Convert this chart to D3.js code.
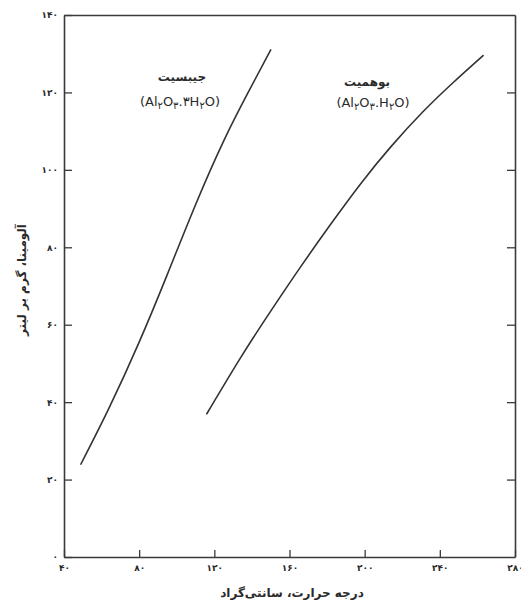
<!DOCTYPE html>
<html lang="fa">
<head>
<meta charset="utf-8">
<script src="https://cdn.jsdelivr.net/npm/d3@7"></script>
<style>
  html, body { margin: 0; padding: 0; background: #ffffff; }
  svg { display: block; }
  text { font-family: "DejaVu Sans", "Noto Sans", sans-serif; fill: #2a2a2a; }
</style>
</head>
<body>
<svg id="chart" width="521" height="603"></svg>
<script>
// Solubility of alumina (g/L) against temperature (°C)
const gibbsiteTemp    = [49, 64, 80, 95, 110, 125, 138, 150];
const gibbsiteAlumina = [24, 38.5, 55.5, 73, 91, 107.5, 120, 131];
const boehmiteTemp    = [116, 134, 150, 166, 182, 198, 214, 231, 247, 263];
const boehmiteAlumina = [37, 51.5, 63.5, 75, 86, 96.5, 106, 115, 122.5, 129.5];

const xTicks = [40, 80, 120, 160, 200, 240, 280];
const yTicks = [0, 20, 40, 60, 80, 100, 120, 140];

const xTitle = "درجه حرارت، سانتی‌گراد";
const yTitle = "آلومینا، گرم بر لیتر";

const fa = n => String(n).replace(/\d/g, c => "۰۱۲۳۴۵۶۷۸۹"[+c]);

const W = 521, H = 603;
const margin = { top: 15, right: 6, bottom: 46, left: 64 };

const svg = d3.select("#chart");
const x = d3.scaleLinear().domain([40, 280]).range([margin.left, W - margin.right]);
const y = d3.scaleLinear().domain([0, 140]).range([H - margin.bottom, margin.top]);

const axisColor = "#3a3a3a";

function styleAxis(g) {
  g.selectAll(".domain").attr("stroke", axisColor).attr("stroke-width", 1.6);
  g.selectAll(".tick line").attr("stroke", axisColor).attr("stroke-width", 1.3);
  g.selectAll(".tick text")
    .attr("font-family", "DejaVu Sans")
    .attr("font-size", 9)
    .attr("font-weight", "bold")
    .attr("fill", "#2a2a2a");
}

// bottom axis, ticks pointing inward
svg.append("g")
  .attr("transform", `translate(0,${y(0)})`)
  .call(d3.axisBottom(x).tickValues(xTicks).tickSize(-7).tickPadding(8).tickFormat(fa).tickSizeOuter(0))
  .call(styleAxis);

// left axis, ticks pointing inward
svg.append("g")
  .attr("transform", `translate(${x(40)},0)`)
  .call(d3.axisLeft(y).tickValues(yTicks).tickSize(-8).tickPadding(6).tickFormat(fa).tickSizeOuter(0))
  .call(styleAxis);

// right frame with mirrored inward ticks
svg.append("g")
  .attr("transform", `translate(${x(280)},0)`)
  .call(d3.axisRight(y).tickValues(yTicks.filter(v => v > 0 && v < 140)).tickSize(-8).tickFormat("").tickSizeOuter(0))
  .call(styleAxis);

// top frame
svg.append("g")
  .attr("transform", `translate(0,${y(140)})`)
  .call(d3.axisTop(x).tickValues([]).tickSizeOuter(0))
  .call(styleAxis);

// curves
const line = d3.line()
  .x(d => x(d[0]))
  .y(d => y(d[1]))
  .curve(d3.curveNatural);

const series = [
  d3.zip(gibbsiteTemp, gibbsiteAlumina),
  d3.zip(boehmiteTemp, boehmiteAlumina)
];

svg.append("g").selectAll("path")
  .data(series)
  .join("path")
  .attr("d", line)
  .attr("fill", "none")
  .attr("stroke", "#333")
  .attr("stroke-width", 1.6)
  .attr("stroke-linecap", "round");

// curve labels
function formula(gx, gy, parts) {
  const t = svg.append("text")
    .attr("x", gx).attr("y", gy)
    .attr("text-anchor", "middle")
    .attr("direction", "ltr")
    .attr("font-family", "Liberation Sans, Arial, sans-serif")
    .attr("font-size", 13);
  parts.forEach(p => {
    t.append("tspan")
      .attr("dy", p.sub ? 3 : (p.after ? -3 : 0))
      .attr("font-family", p.sub ? "DejaVu Sans" : null)
      .attr("font-size", p.sub ? 10 : null)
      .text(p.s);
  });
}

svg.append("text")
  .attr("x", 182).attr("y", 81)
  .attr("text-anchor", "middle")
  .attr("font-size", 12)
  .attr("font-weight", "bold")
  .text("جیبسیت");
formula(180, 106, [
  { s: "(Al" }, { s: "۲", sub: true }, { s: "O", after: true }, { s: "۳", sub: true },
  { s: ".", after: true }, { s: "۳", sub: false }, { s: "H" }, { s: "۲", sub: true }, { s: "O)", after: true }
]);

svg.append("text")
  .attr("x", 367).attr("y", 86)
  .attr("text-anchor", "middle")
  .attr("font-size", 12)
  .attr("font-weight", "bold")
  .text("بوهمیت");
formula(373, 107, [
  { s: "(Al" }, { s: "۲", sub: true }, { s: "O", after: true }, { s: "۳", sub: true },
  { s: ".H", after: true }, { s: "۲", sub: true }, { s: "O)", after: true }
]);

// axis titles
svg.append("text")
  .attr("x", 292).attr("y", 597)
  .attr("text-anchor", "middle")
  .attr("font-size", 12)
  .attr("font-weight", "bold")
  .text(xTitle);

svg.append("text")
  .attr("transform", `translate(26,280) rotate(-90)`)
  .attr("text-anchor", "middle")
  .attr("font-size", 12)
  .attr("font-weight", "bold")
  .text(yTitle);
</script>
</body>
</html>
